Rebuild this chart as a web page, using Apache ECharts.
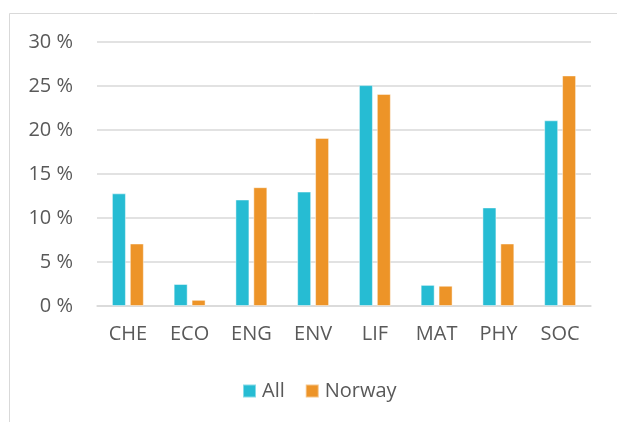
<!DOCTYPE html>
<html>
<head>
<meta charset="utf-8">
<script src="https://cdn.jsdelivr.net/npm/echarts@6/dist/echarts.min.js"></script>
<style>
html,body{margin:0;padding:0;background:#fff;}
#c{width:617px;height:422px;}
</style>
</head>
<body>
<div id="c"></div>
<script>
const categories = ['CHE','ECO','ENG','ENV','LIF','MAT','PHY','SOC'];
const allValues = [12.8, 2.5, 12.1, 13.0, 25.1, 2.4, 11.2, 21.1];
const norwayValues = [7.1, 0.7, 13.5, 19.1, 24.1, 2.3, 7.1, 26.2];
const seriesNames = ['All', 'Norway'];
const yTicks = [0, 5, 10, 15, 20, 25, 30];

const textColor = '#595959';
const fontFamily = '"Open Sans", sans-serif';

const chart = echarts.init(document.getElementById('c'), null, {renderer: 'canvas'});
chart.setOption({
  animation: false,
  backgroundColor: '#ffffff',
  graphic: [{
    type: 'rect',
    shape: {x: 9.5, y: 13.5, width: 800, height: 600},
    style: {fill: 'none', stroke: '#d9d9d9', lineWidth: 1},
    silent: true,
    z: -1
  }],
  grid: {left: 97, right: 26, top: 42, bottom: 116, containLabel: false},
  legend: {
    data: seriesNames,
    left: 242,
    top: 381,
    padding: 0,
    itemWidth: 13,
    itemHeight: 13,
    itemGap: 20,
    icon: 'rect',
    textStyle: {color: textColor, fontSize: 20, fontFamily: fontFamily, padding: [0, 0, 0, 1]}
  },
  xAxis: {
    type: 'category',
    data: categories,
    axisTick: {show: false},
    axisLine: {lineStyle: {color: '#d9d9d9', width: 1.5}},
    axisLabel: {color: textColor, fontSize: 20, fontFamily: fontFamily, margin: 18}
  },
  yAxis: {
    type: 'value',
    min: yTicks[0],
    max: yTicks[yTicks.length - 1],
    interval: 5,
    axisLine: {show: false},
    axisTick: {show: false},
    splitLine: {lineStyle: {color: '#d9d9d9', width: 1.5}},
    axisLabel: {color: textColor, fontSize: 20, fontFamily: fontFamily, margin: 24,
      formatter: v => v + ' %'}
  },
  series: [
    {
      name: seriesNames[0],
      type: 'bar',
      data: allValues,
      barWidth: 14,
      barGap: '28%',
      itemStyle: {color: '#26bcd3', borderColor: 'rgba(255,255,255,0.45)', borderWidth: 1}
    },
    {
      name: seriesNames[1],
      type: 'bar',
      data: norwayValues,
      barWidth: 14,
      barGap: '28%',
      itemStyle: {color: '#ed9428', borderColor: 'rgba(255,255,255,0.45)', borderWidth: 1}
    }
  ]
});
</script>
</body>
</html>
